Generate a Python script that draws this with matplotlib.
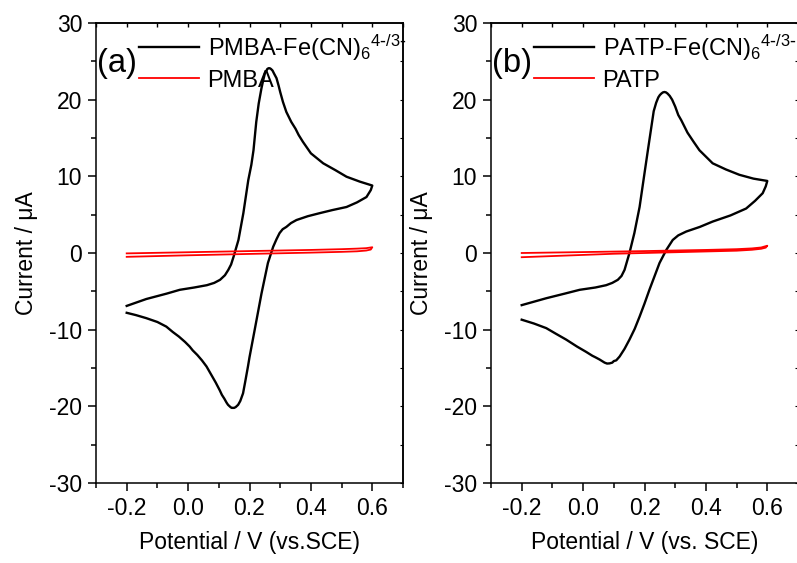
import matplotlib
matplotlib.use("Agg")
import matplotlib.pyplot as plt
from matplotlib.ticker import MultipleLocator

plt.rcParams['font.family'] = ['Liberation Sans', 'DejaVu Sans']
plt.rcParams['mathtext.default'] = 'regular'

# ---------------- data ----------------
# Panel (a): PMBA-Fe(CN)6 4-/3-  (forward scan -0.2 -> 0.6, then back)
a_fwd_x = [-0.2, -0.136, -0.07, -0.027, 0.02, 0.061, 0.085, 0.104, 0.12, 0.131, 0.14, 0.148, 0.164, 0.180,
           0.196, 0.206, 0.213, 0.222, 0.23, 0.239, 0.245, 0.250, 0.258, 0.262, 0.266, 0.27, 0.275, 0.28, 0.288,
           0.295, 0.30, 0.309, 0.32, 0.336, 0.35, 0.36, 0.374, 0.40, 0.44, 0.48, 0.516, 0.56, 0.60]
a_fwd_y = [-6.9, -6.0, -5.3, -4.8, -4.5, -4.2, -3.9, -3.5, -2.9, -2.2, -1.5, -0.5, 1.7, 5.2,
           9.5, 11.5, 13.4, 17.1, 19.5, 21.5, 22.6, 23.4, 24.0, 24.1, 24.1, 24.0, 23.8, 23.4, 22.8,
           21.8, 21.0, 19.7, 18.4, 17.1, 16.2, 15.4, 14.5, 13.0, 11.7, 10.8, 9.95, 9.3, 8.8]
a_rev_x = [0.60, 0.595, 0.581, 0.55, 0.516, 0.47, 0.429, 0.39, 0.353, 0.335, 0.320, 0.308, 0.298,
           0.288, 0.277, 0.260, 0.239, 0.217, 0.20, 0.195, 0.186, 0.179, 0.170, 0.163, 0.155, 0.15,
           0.146, 0.142, 0.138, 0.130, 0.125, 0.118, 0.11, 0.103, 0.09, 0.08, 0.07, 0.06, 0.045, 0.03, 0.015,
           0.005, -0.01, -0.03, -0.05, -0.071, -0.10, -0.136, -0.17, -0.2]
a_rev_y = [8.8, 8.2, 7.3, 6.6, 6.0, 5.6, 5.2, 4.8, 4.3, 3.9, 3.4, 3.1, 2.6,
           1.8, 0.8, -1.3, -5.3, -10.0, -13.6, -14.8, -16.8, -18.3, -19.3, -19.8, -20.1, -20.2,
           -20.2, -20.2, -20.1, -19.8, -19.5, -19.0, -18.5, -17.9, -16.9, -16.2, -15.5, -14.8, -14.0, -13.3, -12.7,
           -12.2, -11.6, -10.9, -10.3, -9.6, -9.0, -8.5, -8.1, -7.8]
a_blank_fwd_x = [-0.2, 0.0, 0.2, 0.4, 0.5, 0.55, 0.58, 0.60]
a_blank_fwd_y = [-0.05, 0.1, 0.25, 0.4, 0.5, 0.57, 0.63, 0.75]
a_blank_rev_x = [0.60, 0.595, 0.58, 0.55, 0.5, 0.4, 0.2, 0.0, -0.2]
a_blank_rev_y = [0.75, 0.45, 0.32, 0.22, 0.15, 0.05, -0.12, -0.3, -0.5]

# Panel (b): PATP-Fe(CN)6 4-/3-
b_fwd_x = [-0.2, -0.12, -0.06, -0.011, 0.04, 0.075, 0.095, 0.113, 0.125, 0.135, 0.151, 0.167, 0.184,
           0.200, 0.211, 0.23, 0.238, 0.245, 0.25, 0.255, 0.26, 0.265, 0.27, 0.275, 0.282, 0.29,
           0.30, 0.31, 0.32, 0.34, 0.36, 0.379, 0.422, 0.465, 0.509, 0.555, 0.60]
b_fwd_y = [-6.8, -5.9, -5.3, -4.8, -4.5, -4.2, -3.9, -3.5, -3.0, -2.2, 0.0, 2.6, 6.0,
           10.4, 13.4, 18.5, 19.6, 20.3, 20.6, 20.8, 20.95, 21.0, 20.95, 20.8, 20.5, 20.0,
           19.1, 18.0, 17.3, 15.7, 14.5, 13.4, 11.7, 10.9, 10.2, 9.7, 9.4]
b_rev_x = [0.60, 0.595, 0.585, 0.56, 0.531, 0.48, 0.422, 0.38, 0.336, 0.31, 0.292,
           0.271, 0.249, 0.216, 0.20, 0.184, 0.168, 0.151, 0.135, 0.119, 0.108, 0.10, 0.095, 0.086,
           0.078, 0.07, 0.054, 0.04, 0.03, 0.01, -0.02, -0.055, -0.09, -0.12, -0.16, -0.2]
b_rev_y = [9.4, 8.7, 7.8, 6.8, 5.8, 4.9, 4.1, 3.4, 2.8, 2.3, 1.7,
           0.4, -1.3, -4.8, -6.6, -8.3, -9.9, -11.3, -12.5, -13.5, -14.0, -14.1, -14.3, -14.4,
           -14.42, -14.3, -13.9, -13.6, -13.4, -12.9, -12.2, -11.3, -10.5, -9.8, -9.2, -8.7]
b_blank_fwd_x = [-0.2, 0.0, 0.2, 0.4, 0.5, 0.55, 0.58, 0.60]
b_blank_fwd_y = [0.0, 0.12, 0.25, 0.4, 0.5, 0.6, 0.72, 0.95]
b_blank_rev_x = [0.60, 0.595, 0.58, 0.55, 0.5, 0.3, 0.1, -0.2]
b_blank_rev_y = [0.95, 0.7, 0.55, 0.42, 0.3, 0.1, -0.1, -0.55]

panel_tags = ["(a)", "(b)"]
legend_cv = [r"PMBA-Fe(CN)$_6$$^{4\text{-}/3\text{-}}$", r"PATP-Fe(CN)$_6$$^{4\text{-}/3\text{-}}$"]
legend_blank = ["PMBA", "PATP"]
xlabels = ["Potential / V (vs.SCE)", "Potential / V (vs. SCE)"]
ylabel = "Current / \u03bcA"
xticks = [-0.2, 0.0, 0.2, 0.4, 0.6]
yticks = [-30, -20, -10, 0, 10, 20, 30]

# ---------------- figure ----------------
FS = 16.5
fig = plt.figure(figsize=(7.97, 5.63), dpi=100)
W, H = 797, 563
ax_w = 307 / W
ax_h = (483 - 23) / H
bottom = 1 - 483 / H
lefts = [96 / W, 491 / W]

panels = [
    (a_fwd_x, a_fwd_y, a_rev_x, a_rev_y, a_blank_fwd_x, a_blank_fwd_y, a_blank_rev_x, a_blank_rev_y),
    (b_fwd_x, b_fwd_y, b_rev_x, b_rev_y, b_blank_fwd_x, b_blank_fwd_y, b_blank_rev_x, b_blank_rev_y),
]

for i, (fx, fy, rx, ry, bfx, bfy, brx, bry) in enumerate(panels):
    ax = fig.add_axes([lefts[i], bottom, ax_w, ax_h])
    l1, = ax.plot(fx + rx, fy + ry, color='black', lw=1.7, solid_joinstyle='round')
    l2, = ax.plot(bfx + brx, bfy + bry, color='#ff0000', lw=1.3, solid_joinstyle='round')
    ax.set_xlim(-0.3, 0.7)
    ax.set_ylim(-30, 30)
    ax.set_xticks(xticks)
    ax.set_xticklabels(["-0.2", "0.0", "0.2", "0.4", "0.6"])
    ax.set_yticks(yticks)
    ax.set_yticklabels([str(v) for v in yticks])
    ax.xaxis.set_minor_locator(MultipleLocator(0.1))
    ax.yaxis.set_minor_locator(MultipleLocator(5))
    ax.tick_params(which='major', direction='out', length=6, width=1.1, labelsize=FS, pad=4)
    ax.tick_params(which='minor', direction='out', length=3.5, width=1.1)
    for s in ax.spines.values():
        s.set_linewidth(1.1)
    sec = ax.secondary_xaxis('top')
    sec.set_xticks(xticks)
    sec.xaxis.set_minor_locator(MultipleLocator(0.1))
    sec.tick_params(which='both', direction='in', labeltop=False, length=3, width=1.0)
    sec.spines['top'].set_linewidth(1.1)
    secy = ax.secondary_yaxis('right')
    secy.set_yticks(yticks)
    secy.yaxis.set_minor_locator(MultipleLocator(5))
    secy.tick_params(which='both', direction='in', labelright=False, length=2, width=0.8)
    secy.spines['right'].set_linewidth(1.1)
    ax.set_xlabel(xlabels[i], fontsize=FS, labelpad=8)
    ax.set_ylabel(ylabel, fontsize=FS, labelpad=8)
    ax.text(0.003, 0.912, panel_tags[i], transform=ax.transAxes, fontsize=23.5,
            ha='left', va='center')
    ax.legend([l1, l2], [legend_cv[i], legend_blank[i]], loc='upper left',
              bbox_to_anchor=(0.125, 0.99), frameon=False, fontsize=17,
              handlelength=2.55, handletextpad=0.35, labelspacing=0.3,
              borderaxespad=0.0, borderpad=0.2)

fig.savefig("out.png", dpi=100)
